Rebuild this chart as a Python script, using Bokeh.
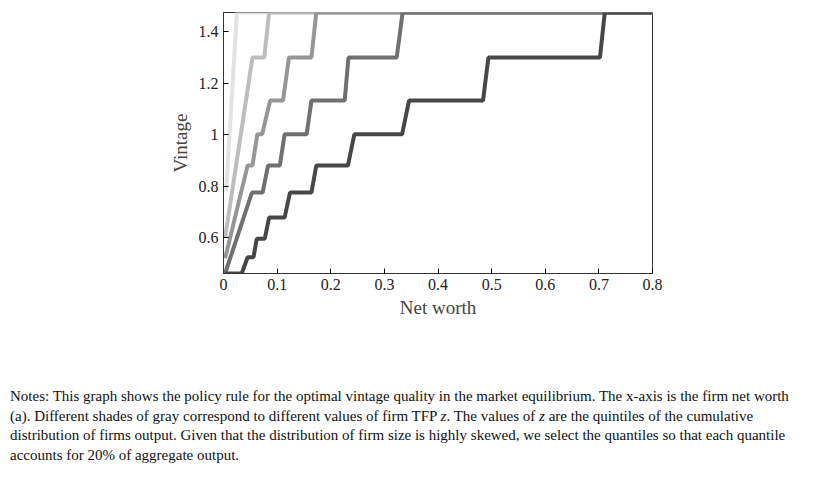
from bokeh.plotting import figure
from bokeh.models import Legend, LegendItem, LinearAxis, Div, FixedTicker, Range1d
from bokeh.layouts import column
from bokeh.embed import file_html
from bokeh.resources import INLINE

labels = ["Q1 of y distribution", "Q2", "Q3", "Q4", "Q5"]
colors = ["#e3e3e3", "#bdbdbd", "#969696", "#707070", "#474747"]
q1_x = [0.005, 0.025, 0.8]
q1_y = [0.78, 1.474, 1.474]
q2_x = [0.003, 0.054, 0.076, 0.085, 0.8]
q2_y = [0.60, 1.299, 1.299, 1.474, 1.474]
q3_x = [0.003, 0.045, 0.054, 0.063, 0.072, 0.087, 0.111, 0.122, 0.164, 0.173, 0.8]
q3_y = [0.52, 0.880, 0.880, 1.001, 1.001, 1.132, 1.132, 1.299, 1.299, 1.474, 1.474]
q4_x = [0.003, 0.053, 0.073, 0.083, 0.105, 0.114, 0.155, 0.164, 0.226, 0.233, 0.323, 0.334, 0.8]
q4_y = [0.461, 0.775, 0.775, 0.880, 0.880, 1.001, 1.001, 1.132, 1.132, 1.299, 1.299, 1.474, 1.474]
q5_x = [0.003, 0.034, 0.045, 0.056, 0.062, 0.077, 0.085, 0.114, 0.124, 0.164, 0.173, 0.232,
        0.244, 0.333, 0.346, 0.484, 0.494, 0.702, 0.711, 0.8]
q5_y = [0.461, 0.461, 0.524, 0.524, 0.596, 0.596, 0.678, 0.678, 0.775, 0.775, 0.880, 0.880,
        1.001, 1.001, 1.132, 1.132, 1.299, 1.299, 1.474, 1.474]
series = [(q1_x, q1_y), (q2_x, q2_y), (q3_x, q3_y), (q4_x, q4_y), (q5_x, q5_y)]
x_ticks = [0, 0.1, 0.2, 0.3, 0.4, 0.5, 0.6, 0.7, 0.8]
y_ticks = [0.6, 0.8, 1.0, 1.2, 1.4]
x_tick_labels = ["0", "0.1", "0.2", "0.3", "0.4", "0.5", "0.6", "0.7", "0.8"]
y_tick_labels = ["0.6", "0.8", "1", "1.2", "1.4"]

serif = "Liberation Serif"
p = figure(width=813, height=365, output_backend="svg", toolbar_location=None,
           x_range=Range1d(0, 0.8), y_range=Range1d(0.461, 1.474),
           min_border_left=223, min_border_right=161, min_border_top=12, min_border_bottom=92)
p.grid.visible = False
p.outline_line_color = "#333333"
items = []
for (xs, ys), c, lab in zip(series, colors, labels):
    r = p.line(xs, ys, line_color=c, line_width=4)
    items.append(LegendItem(label=lab, renderers=[r]))

for ax, ticks, labs in [(p.xaxis[0], x_ticks, x_tick_labels), (p.yaxis[0], y_ticks, y_tick_labels)]:
    ax.ticker = FixedTicker(ticks=ticks)
    ax.major_label_overrides = {t: l for t, l in zip(ticks, labs)}
    ax.major_label_text_font = serif
    ax.major_label_text_font_size = "16px"
    ax.major_label_text_color = "#222222"
    ax.axis_label_text_font = serif
    ax.axis_label_text_font_size = "19px"
    ax.axis_label_text_font_style = "normal"
    ax.major_tick_in = 5
    ax.major_tick_out = 0
    ax.minor_tick_line_color = None
    ax.axis_line_color = "#333333"
p.xaxis[0].axis_label = "Net worth"
p.yaxis[0].axis_label = "Vintage"
p.xaxis[0].axis_label_standoff = 4

legend = Legend(items=items, orientation="horizontal", location=(-37, -92),
                label_text_font=serif, label_text_font_size="15px",
                border_line_color="#333333", glyph_width=40, spacing=4,
                padding=2, margin=0, label_standoff=4, label_height=16, glyph_height=16)
p.add_layout(legend, "center")

notes = Div(text=("Notes: This graph shows the policy rule for the optimal vintage quality in the market equilibrium. "
                  "The x-axis is the firm net worth (a). Different shades of gray correspond to different values of firm TFP <i>z</i>. "
                  "The values of <i>z</i> are the quintiles of the cumulative distribution of firms output. Given that the distribution "
                  "of firm size is highly skewed, we select the quantiles so that each quantile accounts for 20% of aggregate output."),
            width=800, styles={"font-family": serif, "font-size": "15px", "line-height": "1.3", "color": "#111",
                               "margin-left": "10px", "margin-top": "22px"})
open("out.html", "w").write(file_html(column(p, notes), INLINE))
